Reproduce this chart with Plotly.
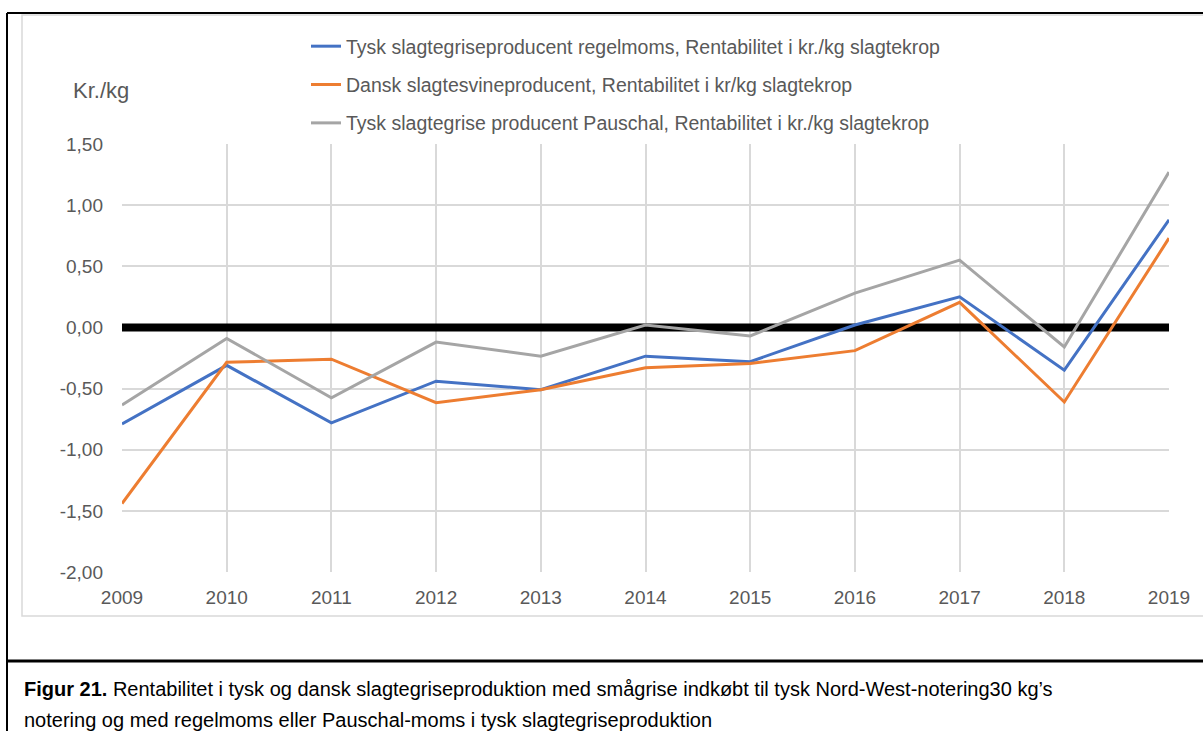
import plotly.graph_objects as go

years = [2009, 2010, 2011, 2012, 2013, 2014, 2015, 2016, 2017, 2018, 2019]
tysk_regelmoms = [-0.79, -0.31, -0.78, -0.44, -0.51, -0.235, -0.28, 0.02, 0.25, -0.35, 0.88]
dansk = [-1.44, -0.285, -0.26, -0.615, -0.51, -0.33, -0.295, -0.19, 0.205, -0.61, 0.73]
tysk_pauschal = [-0.635, -0.09, -0.575, -0.12, -0.235, 0.02, -0.07, 0.28, 0.55, -0.16, 1.27]
nul_linje = [0] * len(years)

y_tickvals = [1.5, 1.0, 0.5, 0.0, -0.5, -1.0, -1.5, -2.0]
y_ticktext = ["1,50", "1,00", "0,50", "0,00", "-0,50", "-1,00", "-1,50", "-2,00"]

names = [
    "Tysk slagtegriseproducent regelmoms, Rentabilitet i kr./kg slagtekrop",
    "Dansk slagtesvineproducent, Rentabilitet i kr/kg slagtekrop",
    "Tysk slagtegrise producent Pauschal, Rentabilitet i kr./kg slagtekrop",
]
colors = ["#4472C4", "#ED7D31", "#A5A5A5"]

W, H = 1203, 731
L, R, T, B = 122, 1169, 144, 572  # plot area in pixels

def px(x):
    return (x - L) / (R - L)

def py(y):
    return (B - y) / (B - T)

fig = go.Figure()
fig.add_trace(go.Scatter(x=years, y=nul_linje, mode="lines",
                         line=dict(color="black", width=8), showlegend=False,
                         hoverinfo="skip"))
for i, (vals, name, col) in enumerate(zip([tysk_regelmoms, dansk, tysk_pauschal], names, colors)):
    fig.add_trace(go.Scatter(x=years, y=vals, mode="lines", name=name,
                             line=dict(color=col, width=3),
                             legendgroup=f"g{i}"))

font_fam = "Liberation Sans, Arial, sans-serif"
shapes = [
    dict(type="rect", xref="paper", yref="paper",
         x0=px(22), x1=px(1210), y0=py(15), y1=py(616),
         line=dict(color="#D9D9D9", width=1.5), layer="below"),
    dict(type="line", xref="paper", yref="paper", x0=px(7), x1=px(1210),
         y0=py(13), y1=py(13), line=dict(color="black", width=2)),
    dict(type="line", xref="paper", yref="paper", x0=px(7), x1=px(7),
         y0=py(13), y1=py(740), line=dict(color="black", width=2)),
    dict(type="line", xref="paper", yref="paper", x0=px(7), x1=px(1210),
         y0=py(661), y1=py(661), line=dict(color="black", width=3)),
]

annotations = [
    dict(text="Kr./kg", xref="paper", yref="paper", x=px(71), y=py(91),
         xanchor="left", yanchor="middle", showarrow=False,
         font=dict(family=font_fam, size=22, color="#595959")),
    dict(text="<b>Figur 21.</b> Rentabilitet i tysk og dansk slagtegriseproduktion med smågrise indkøbt til tysk Nord-West-notering30 kg’s",
         xref="paper", yref="paper", x=px(22), y=py(689),
         xanchor="left", yanchor="middle", showarrow=False,
         font=dict(family=font_fam, size=20, color="black")),
    dict(text="notering og med regelmoms eller Pauschal-moms i tysk slagtegriseproduktion",
         xref="paper", yref="paper", x=px(22), y=py(720),
         xanchor="left", yanchor="middle", showarrow=False,
         font=dict(family=font_fam, size=20, color="black")),
]

fig.update_layout(
    width=W, height=H, autosize=False,
    margin=dict(l=L, r=W - R, t=T, b=H - B),
    paper_bgcolor="white", plot_bgcolor="white",
    font=dict(family=font_fam, size=19, color="#595959"),
    shapes=shapes, annotations=annotations,
    legend=dict(x=px(306), y=py(27), xanchor="left", yanchor="top",
                font=dict(family=font_fam, size=19.5, color="#595959"),
                tracegroupgap=10, bgcolor="rgba(0,0,0,0)",
                itemwidth=30),
    showlegend=True,
)
fig.update_xaxes(range=[2009, 2019], tickvals=years, showgrid=True,
                 gridcolor="#D9D9D9", gridwidth=1.5, zeroline=False,
                 showline=False, ticks="", ticklabelstandoff=12,
                 tickfont=dict(size=19, color="#595959"))
fig.update_yaxes(range=[-2, 1.5], tickvals=y_tickvals, ticktext=y_ticktext,
                 showgrid=True, gridcolor="#D9D9D9", gridwidth=1.5,
                 zeroline=False, showline=False, ticks="", ticklabelstandoff=18,
                 tickfont=dict(size=19, color="#595959"))

fig.write_html("out.html", config={"displayModeBar": False})

with open("out.html", encoding="utf-8") as f:
    html = f.read()
html = html.replace("<body>", '<body style="margin:0;padding:0;overflow:hidden">', 1)
with open("out.html", "w", encoding="utf-8") as f:
    f.write(html)
